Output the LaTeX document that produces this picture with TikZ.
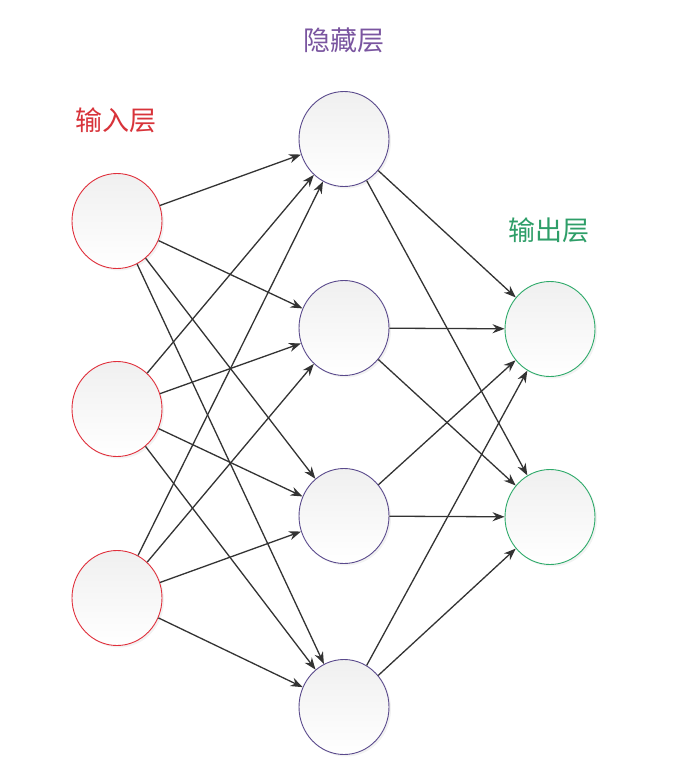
\documentclass[tikz,border=0pt]{standalone}
\usepackage{fontspec}
\newfontfamily\cjk{Noto Sans CJK SC}
\usetikzlibrary{arrows.meta,shapes.geometric,shadows}
\definecolor{inred}{HTML}{E0303C}
\definecolor{hidpurple}{HTML}{5A4A8C}
\definecolor{outgreen}{HTML}{2EAA6A}
\definecolor{txtred}{HTML}{D8333A}
\definecolor{txtpurple}{HTML}{7A55A0}
\definecolor{txtgreen}{HTML}{2E9E68}
\definecolor{edgegray}{HTML}{333333}
\tikzset{
  neuron/.style={ellipse, minimum width=90pt, minimum height=95pt, inner sep=0pt,
    line width=0.9pt, top color=black!6, bottom color=white,
    drop shadow={opacity=0.10, shadow xshift=2pt, shadow yshift=-2pt}},
  innode/.style={neuron, draw=inred},
  hidnode/.style={neuron, draw=hidpurple},
  outnode/.style={neuron, draw=outgreen},
  layerlabel/.style={font=\cjk\fontsize{27}{30}\selectfont, inner sep=0pt},
  conn/.style={draw=edgegray, line width=1.3pt, -{Stealth[length=12pt,width=9pt]}}
}
\begin{document}
\begin{tikzpicture}[x=1pt,y=-1pt]
\useasboundingbox (0,0) rectangle (679,771);
\fill[white] (0,0) rectangle (679,771);
% nodes
\node[innode] (i1) at (117,221) {};
\node[innode] (i2) at (117,409) {};
\node[innode] (i3) at (117,598) {};
\node[hidnode] (h1) at (344,139) {};
\node[hidnode] (h2) at (344,328) {};
\node[hidnode] (h3) at (344,516) {};
\node[hidnode] (h4) at (344,707) {};
\node[outnode] (o1) at (550,329) {};
\node[outnode] (o2) at (550,517) {};
% labels
\node[layerlabel, text=txtred] (lin) at (116,120) {输入层};
\node[layerlabel, text=txtpurple] (lhid) at (344,40) {隐藏层};
\node[layerlabel, text=txtgreen] (lout) at (549,230) {输出层};
% connectors
\foreach \a in {i1,i2,i3}{
  \foreach \b in {h1,h2,h3,h4}{
    \draw[conn] (\a) -- (\b);
  }
}
\foreach \a in {h1,h2,h3,h4}{
  \foreach \b in {o1,o2}{
    \draw[conn] (\a) -- (\b);
  }
}
\end{tikzpicture}
\end{document}
